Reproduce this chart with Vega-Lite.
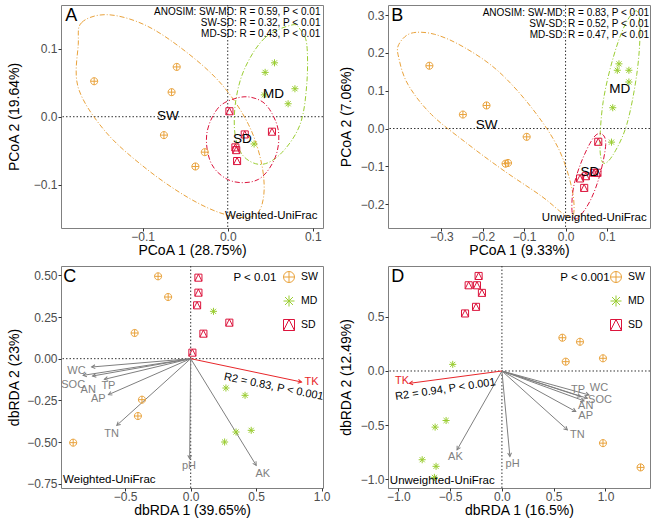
{
  "$schema": "https://vega.github.io/schema/vega-lite/v6.json",
  "padding": {"left": 6, "top": 4, "right": 0, "bottom": 0},
  "columns": 2,
  "spacing": {"row": 7, "column": 7},
  "datasets": {
    "ptsA": [
      {"g": "SW", "x": -0.157, "y": 0.052}, {"g": "SW", "x": -0.060, "y": 0.073}, {"g": "SW", "x": -0.066, "y": 0.036},
      {"g": "SW", "x": -0.075, "y": -0.027}, {"g": "SW", "x": -0.027, "y": -0.052}, {"g": "SW", "x": -0.038, "y": -0.073},
      {"g": "MD", "x": 0.055, "y": 0.079}, {"g": "MD", "x": 0.044, "y": 0.065}, {"g": "MD", "x": 0.079, "y": 0.041},
      {"g": "MD", "x": 0.071, "y": 0.019}, {"g": "MD", "x": 0.043, "y": 0.032}, {"g": "MD", "x": 0.031, "y": -0.040},
      {"g": "SD", "x": 0.002, "y": 0.008}, {"g": "SD", "x": 0.020, "y": -0.026}, {"g": "SD", "x": 0.009, "y": -0.045},
      {"g": "SD", "x": 0.010, "y": -0.049}, {"g": "SD", "x": 0.011, "y": -0.065}, {"g": "SD", "x": 0.052, "y": -0.022}
    ],
    "ellA": [
      {"g": "SW", "i": 1, "x": -0.1757, "y": 0.1061}, {"g": "SW", "i": 2, "x": -0.1718, "y": 0.1379}, {"g": "SW", "i": 3, "x": -0.1416, "y": 0.1496},
      {"g": "SW", "i": 4, "x": -0.0973, "y": 0.1345}, {"g": "SW", "i": 5, "x": -0.0502, "y": 0.0963}, {"g": "SW", "i": 6, "x": -0.0071, "y": 0.0474},
      {"g": "SW", "i": 7, "x": 0.0243, "y": -0.0112}, {"g": "SW", "i": 8, "x": 0.0400, "y": -0.0699}, {"g": "SW", "i": 9, "x": 0.0420, "y": -0.1188},
      {"g": "SW", "i": 10, "x": 0.0302, "y": -0.1457}, {"g": "SW", "i": 11, "x": -0.0031, "y": -0.1433}, {"g": "SW", "i": 12, "x": -0.0463, "y": -0.1188},
      {"g": "SW", "i": 13, "x": -0.0973, "y": -0.0748}, {"g": "SW", "i": 14, "x": -0.1443, "y": -0.0210}, {"g": "SW", "i": 15, "x": -0.1757, "y": 0.0425},
      {"g": "MD", "i": 1, "x": 0.0753, "y": 0.1345}, {"g": "MD", "i": 2, "x": 0.0439, "y": 0.1159}, {"g": "MD", "i": 3, "x": 0.0204, "y": 0.0719},
      {"g": "MD", "i": 4, "x": 0.0094, "y": 0.0230}, {"g": "MD", "i": 5, "x": 0.0086, "y": -0.0259}, {"g": "MD", "i": 6, "x": 0.0184, "y": -0.0577},
      {"g": "MD", "i": 7, "x": 0.0400, "y": -0.0699}, {"g": "MD", "i": 8, "x": 0.0635, "y": -0.0528}, {"g": "MD", "i": 9, "x": 0.0851, "y": -0.0112},
      {"g": "MD", "i": 10, "x": 0.0929, "y": 0.0474}, {"g": "MD", "i": 11, "x": 0.0929, "y": 0.1061}, {"g": "MD", "i": 12, "x": 0.0851, "y": 0.1281},
      {"g": "SD", "i": 1, "x": 0.0125, "y": 0.0279}, {"g": "SD", "i": 2, "x": -0.0110, "y": 0.0132}, {"g": "SD", "i": 3, "x": -0.0247, "y": -0.0259},
      {"g": "SD", "i": 4, "x": -0.0188, "y": -0.0699}, {"g": "SD", "i": 5, "x": 0.0047, "y": -0.0944}, {"g": "SD", "i": 6, "x": 0.0361, "y": -0.0919},
      {"g": "SD", "i": 7, "x": 0.0557, "y": -0.0601}, {"g": "SD", "i": 8, "x": 0.0596, "y": -0.0210}, {"g": "SD", "i": 9, "x": 0.0478, "y": 0.0132},
      {"g": "SD", "i": 10, "x": 0.0322, "y": 0.0269}
    ],
    "ptsB": [
      {"g": "SW", "x": -0.329, "y": 0.166}, {"g": "SW", "x": -0.248, "y": 0.037}, {"g": "SW", "x": -0.191, "y": 0.061},
      {"g": "SW", "x": -0.094, "y": -0.022}, {"g": "SW", "x": -0.145, "y": -0.093}, {"g": "SW", "x": -0.139, "y": -0.091},
      {"g": "MD", "x": 0.129, "y": 0.171}, {"g": "MD", "x": 0.125, "y": 0.154}, {"g": "MD", "x": 0.153, "y": 0.154},
      {"g": "MD", "x": 0.153, "y": 0.123}, {"g": "MD", "x": 0.114, "y": 0.055}, {"g": "MD", "x": 0.111, "y": -0.036},
      {"g": "SD", "x": 0.079, "y": -0.035}, {"g": "SD", "x": 0.069, "y": -0.117}, {"g": "SD", "x": 0.077, "y": -0.117},
      {"g": "SD", "x": 0.049, "y": -0.126}, {"g": "SD", "x": 0.035, "y": -0.132}, {"g": "SD", "x": 0.045, "y": -0.157}
    ],
    "ellB": [
      {"g": "SW", "i": 1, "x": -0.403, "y": 0.222}, {"g": "SW", "i": 2, "x": -0.373, "y": 0.252}, {"g": "SW", "i": 3, "x": -0.316, "y": 0.249},
      {"g": "SW", "i": 4, "x": -0.244, "y": 0.214}, {"g": "SW", "i": 5, "x": -0.163, "y": 0.152}, {"g": "SW", "i": 6, "x": -0.082, "y": 0.055},
      {"g": "SW", "i": 7, "x": -0.018, "y": -0.051}, {"g": "SW", "i": 8, "x": 0.015, "y": -0.157}, {"g": "SW", "i": 9, "x": 0.019, "y": -0.228},
      {"g": "SW", "i": 10, "x": -0.002, "y": -0.228}, {"g": "SW", "i": 11, "x": -0.058, "y": -0.179}, {"g": "SW", "i": 12, "x": -0.147, "y": -0.113},
      {"g": "SW", "i": 13, "x": -0.235, "y": -0.042}, {"g": "SW", "i": 14, "x": -0.324, "y": 0.037}, {"g": "SW", "i": 15, "x": -0.381, "y": 0.117},
      {"g": "SW", "i": 16, "x": -0.403, "y": 0.187},
      {"g": "MD", "i": 1, "x": 0.172, "y": 0.311}, {"g": "MD", "i": 2, "x": 0.180, "y": 0.258}, {"g": "MD", "i": 3, "x": 0.172, "y": 0.143},
      {"g": "MD", "i": 4, "x": 0.148, "y": 0.011}, {"g": "MD", "i": 5, "x": 0.115, "y": -0.069}, {"g": "MD", "i": 6, "x": 0.091, "y": -0.091},
      {"g": "MD", "i": 7, "x": 0.083, "y": -0.042}, {"g": "MD", "i": 8, "x": 0.091, "y": 0.072}, {"g": "MD", "i": 9, "x": 0.115, "y": 0.187},
      {"g": "MD", "i": 10, "x": 0.144, "y": 0.275},
      {"g": "SD", "i": 1, "x": 0.087, "y": -0.014}, {"g": "SD", "i": 2, "x": 0.097, "y": -0.042}, {"g": "SD", "i": 3, "x": 0.083, "y": -0.122},
      {"g": "SD", "i": 4, "x": 0.059, "y": -0.192}, {"g": "SD", "i": 5, "x": 0.029, "y": -0.237}, {"g": "SD", "i": 6, "x": 0.016, "y": -0.223},
      {"g": "SD", "i": 7, "x": 0.019, "y": -0.157}, {"g": "SD", "i": 8, "x": 0.039, "y": -0.086}, {"g": "SD", "i": 9, "x": 0.067, "y": -0.025}
    ],
    "ptsC": [
      {"g": "SW", "x": -0.249, "y": 0.494}, {"g": "SW", "x": -0.172, "y": 0.370}, {"g": "SW", "x": -0.428, "y": 0.154},
      {"g": "SW", "x": -0.372, "y": -0.246}, {"g": "SW", "x": -0.403, "y": -0.344}, {"g": "SW", "x": -0.897, "y": -0.504},
      {"g": "MD", "x": 0.174, "y": 0.284}, {"g": "MD", "x": 0.269, "y": -0.176}, {"g": "MD", "x": 0.415, "y": -0.220},
      {"g": "MD", "x": 0.346, "y": -0.440}, {"g": "MD", "x": 0.462, "y": -0.430}, {"g": "MD", "x": 0.259, "y": -0.500},
      {"g": "SD", "x": 0.059, "y": 0.486}, {"g": "SD", "x": 0.059, "y": 0.396}, {"g": "SD", "x": 0.049, "y": 0.320},
      {"g": "SD", "x": 0.295, "y": 0.216}, {"g": "SD", "x": 0.097, "y": 0.150}, {"g": "SD", "x": 0.013, "y": 0.036}
    ],
    "arrC": [
      {"v": "WC", "x": -0.756, "y": -0.050, "lx": -0.872, "ly": -0.074},
      {"v": "SOC", "x": -0.821, "y": -0.100, "lx": -0.897, "ly": -0.156},
      {"v": "AN", "x": -0.749, "y": -0.104, "lx": -0.782, "ly": -0.190},
      {"v": "TP", "x": -0.659, "y": -0.124, "lx": -0.628, "ly": -0.164},
      {"v": "AP", "x": -0.628, "y": -0.216, "lx": -0.705, "ly": -0.240},
      {"v": "TN", "x": -0.564, "y": -0.400, "lx": -0.603, "ly": -0.450},
      {"v": "pH", "x": -0.008, "y": -0.600, "lx": -0.013, "ly": -0.644},
      {"v": "AK", "x": 0.500, "y": -0.640, "lx": 0.551, "ly": -0.690},
      {"v": "TK", "x": 0.846, "y": -0.140, "lx": 0.923, "ly": -0.140}
    ],
    "ptsD": [
      {"g": "SW", "x": 0.584, "y": 0.307}, {"g": "SW", "x": 0.754, "y": 0.270}, {"g": "SW", "x": 0.616, "y": 0.086},
      {"g": "SW", "x": 0.976, "y": 0.117}, {"g": "SW", "x": 0.976, "y": -0.666}, {"g": "SW", "x": 1.339, "y": -0.890},
      {"g": "MD", "x": -0.475, "y": 0.061}, {"g": "MD", "x": -0.539, "y": -0.457}, {"g": "MD", "x": -0.645, "y": -0.518},
      {"g": "MD", "x": -0.770, "y": -0.819}, {"g": "MD", "x": -0.636, "y": -0.880}, {"g": "MD", "x": -0.652, "y": -0.982},
      {"g": "SD", "x": -0.225, "y": 0.877}, {"g": "SD", "x": -0.321, "y": 0.791}, {"g": "SD", "x": -0.241, "y": 0.791},
      {"g": "SD", "x": -0.193, "y": 0.721}, {"g": "SD", "x": -0.250, "y": 0.592}, {"g": "SD", "x": -0.356, "y": 0.531}
    ],
    "arrD": [
      {"v": "WC", "x": 0.841, "y": -0.221, "lx": 0.937, "ly": -0.160},
      {"v": "SOC", "x": 0.825, "y": -0.252, "lx": 0.947, "ly": -0.270},
      {"v": "TP", "x": 0.761, "y": -0.236, "lx": 0.735, "ly": -0.178},
      {"v": "AN", "x": 0.793, "y": -0.276, "lx": 0.809, "ly": -0.322},
      {"v": "AP", "x": 0.713, "y": -0.374, "lx": 0.809, "ly": -0.411},
      {"v": "TN", "x": 0.632, "y": -0.543, "lx": 0.729, "ly": -0.595},
      {"v": "pH", "x": 0.077, "y": -0.788, "lx": 0.103, "ly": -0.859},
      {"v": "AK", "x": -0.433, "y": -0.727, "lx": -0.449, "ly": -0.798},
      {"v": "TK", "x": -0.893, "y": -0.114, "lx": -0.965, "ly": -0.089}
    ]
  },
  "concat": [
    {
      "width": 262, "height": 223,
      "layer": [
        {"data": {"values": [{}]}, "mark": {"type": "rule", "strokeDash": [1.5, 2], "color": "#333333", "strokeWidth": 1}, "encoding": {"x": {"datum": 0}}},
        {"data": {"values": [{}]}, "mark": {"type": "rule", "strokeDash": [1.5, 2], "color": "#333333", "strokeWidth": 1}, "encoding": {"y": {"datum": 0}}},
        {"data": {"name": "ellA"}, "mark": {"type": "line", "interpolate": "cardinal-closed", "strokeDash": [5, 2, 1, 2], "strokeWidth": 1, "clip": true},
          "encoding": {
            "x": {"field": "x", "type": "quantitative", "title": "PCoA 1 (28.75%)"},
            "y": {"field": "y", "type": "quantitative", "title": "PCoA 2 (19.64%)"},
            "order": {"field": "i", "type": "quantitative"},
            "stroke": {"field": "g", "type": "nominal", "scale": {"domain": ["SW", "MD", "SD"], "range": ["#E9A23B", "#9ACD32", "#DC143C"]}, "legend": null}
          }},
        {"data": {"name": "ptsA"}, "mark": {"type": "point", "filled": false, "size": 50, "strokeWidth": 1, "opacity": 1},
          "encoding": {
            "x": {"field": "x", "type": "quantitative", "title": "PCoA 1 (28.75%)", "scale": {"domain": [-0.196, 0.112], "nice": false, "zero": false}, "axis": {"values": [-0.1, 0, 0.1], "format": ".1f"}},
            "y": {"field": "y", "type": "quantitative", "title": "PCoA 2 (19.64%)", "scale": {"domain": [-0.1632, 0.1638], "nice": false, "zero": false}, "axis": {"values": [-0.1, 0, 0.1], "format": ".1f", "titlePadding": 12}},
            "color": {"field": "g", "type": "nominal", "scale": {"domain": ["SW", "MD", "SD"], "range": ["#E9A23B", "#9ACD32", "#DC143C"]},
              "legend": {"orient": "bottom-left", "title": null, "offset": 6, "symbolSize": 121, "symbolStrokeWidth": 1, "labelFontSize": 10.5, "rowPadding": 8, "padding": 0}},
            "shape": {"field": "g", "type": "nominal", "scale": {"domain": ["SW", "MD", "SD"], "range": ["M-1,0A1,1,0,1,1,1,0A1,1,0,1,1,-1,0ZM-1,0L1,0M0,-1L0,1", "M-1,0L1,0M0,-1L0,1M-0.72,-0.72L0.72,0.72M-0.72,0.72L0.72,-0.72", "M-1,-1L1,-1L1,1L-1,1ZM-1,1L0,-1L1,1"]},
              "legend": {"orient": "bottom-left", "title": null, "offset": 6, "symbolSize": 121, "symbolStrokeWidth": 1, "labelFontSize": 10.5, "rowPadding": 8, "padding": 0}}
          }},
        {"data": {"name": "ptsA"}, "transform": [{"aggregate": [{"op": "mean", "field": "x", "as": "x"}, {"op": "mean", "field": "y", "as": "y"}], "groupby": ["g"]}],
          "mark": {"type": "text", "fontSize": 13.5, "color": "#000000"},
          "encoding": {"x": {"field": "x", "type": "quantitative", "title": "PCoA 1 (28.75%)"}, "y": {"field": "y", "type": "quantitative", "title": "PCoA 2 (19.64%)"}, "text": {"field": "g"}}},
        {"data": {"values": [{}]}, "mark": {"type": "text", "align": "right", "baseline": "top", "fontSize": 10, "lineHeight": 11, "color": "#000000"},
          "encoding": {"x": {"datum": 0.109}, "y": {"datum": 0.161}, "text": {"value": ["ANOSIM:  SW-MD: R = 0.59, P < 0.01", "SW-SD: R = 0.32, P < 0.01", "MD-SD: R = 0.43, P < 0.01"]}}},
        {"data": {"values": [{}]}, "mark": {"type": "text", "align": "left", "baseline": "middle", "fontSize": 18, "color": "#000000"},
          "encoding": {"x": {"datum": -0.191}, "y": {"datum": 0.148}, "text": {"value": "A"}}},
        {"data": {"values": [{}]}, "mark": {"type": "text", "align": "right", "baseline": "middle", "fontSize": 11.5, "color": "#000000"},
          "encoding": {"x": {"datum": 0.1055}, "y": {"datum": -0.1456}, "text": {"value": "Weighted-UniFrac"}}}
      ]
    },
    {
      "width": 262, "height": 223,
      "layer": [
        {"data": {"values": [{}]}, "mark": {"type": "rule", "strokeDash": [1.5, 2], "color": "#333333", "strokeWidth": 1}, "encoding": {"x": {"datum": 0}}},
        {"data": {"values": [{}]}, "mark": {"type": "rule", "strokeDash": [1.5, 2], "color": "#333333", "strokeWidth": 1}, "encoding": {"y": {"datum": 0}}},
        {"data": {"name": "ellB"}, "mark": {"type": "line", "interpolate": "cardinal-closed", "strokeDash": [5, 2, 1, 2], "strokeWidth": 1, "clip": true},
          "encoding": {
            "x": {"field": "x", "type": "quantitative", "title": "PCoA 1 (9.33%)"},
            "y": {"field": "y", "type": "quantitative", "title": "PCoA 2 (7.06%)"},
            "order": {"field": "i", "type": "quantitative"},
            "stroke": {"field": "g", "type": "nominal", "scale": {"domain": ["SW", "MD", "SD"], "range": ["#E9A23B", "#9ACD32", "#DC143C"]}, "legend": null}
          }},
        {"data": {"name": "ptsB"}, "mark": {"type": "point", "filled": false, "size": 50, "strokeWidth": 1, "opacity": 1},
          "encoding": {
            "x": {"field": "x", "type": "quantitative", "title": "PCoA 1 (9.33%)", "scale": {"domain": [-0.429, 0.204], "nice": false, "zero": false}, "axis": {"values": [-0.3, -0.2, -0.1, 0, 0.1], "format": ".1f"}},
            "y": {"field": "y", "type": "quantitative", "title": "PCoA 2 (7.06%)", "scale": {"domain": [-0.263, 0.3266], "nice": false, "zero": false}, "axis": {"values": [-0.2, -0.1, 0, 0.1, 0.2, 0.3], "format": ".1f", "titlePadding": 7}},
            "color": {"field": "g", "type": "nominal", "scale": {"domain": ["SW", "MD", "SD"], "range": ["#E9A23B", "#9ACD32", "#DC143C"]},
              "legend": {"orient": "bottom-left", "title": null, "offset": 6, "symbolSize": 121, "symbolStrokeWidth": 1, "labelFontSize": 10.5, "rowPadding": 8, "padding": 0}},
            "shape": {"field": "g", "type": "nominal", "scale": {"domain": ["SW", "MD", "SD"], "range": ["M-1,0A1,1,0,1,1,1,0A1,1,0,1,1,-1,0ZM-1,0L1,0M0,-1L0,1", "M-1,0L1,0M0,-1L0,1M-0.72,-0.72L0.72,0.72M-0.72,0.72L0.72,-0.72", "M-1,-1L1,-1L1,1L-1,1ZM-1,1L0,-1L1,1"]},
              "legend": {"orient": "bottom-left", "title": null, "offset": 6, "symbolSize": 121, "symbolStrokeWidth": 1, "labelFontSize": 10.5, "rowPadding": 8, "padding": 0}}
          }},
        {"data": {"name": "ptsB"}, "transform": [{"aggregate": [{"op": "mean", "field": "x", "as": "x"}, {"op": "mean", "field": "y", "as": "y"}], "groupby": ["g"]}],
          "mark": {"type": "text", "fontSize": 13.5, "color": "#000000"},
          "encoding": {"x": {"field": "x", "type": "quantitative", "title": "PCoA 1 (9.33%)"}, "y": {"field": "y", "type": "quantitative", "title": "PCoA 2 (7.06%)"}, "text": {"field": "g"}}},
        {"data": {"values": [{}]}, "mark": {"type": "text", "align": "right", "baseline": "top", "fontSize": 10, "lineHeight": 11, "color": "#000000"},
          "encoding": {"x": {"datum": 0.2017}, "y": {"datum": 0.318}, "text": {"value": ["ANOSIM:  SW-MD: R = 0.83, P < 0.01", "SW-SD: R = 0.52, P < 0.01", "MD-SD: R = 0.47, P < 0.01"]}}},
        {"data": {"values": [{}]}, "mark": {"type": "text", "align": "left", "baseline": "middle", "fontSize": 18, "color": "#000000"},
          "encoding": {"x": {"datum": -0.421}, "y": {"datum": 0.297}, "text": {"value": "B"}}},
        {"data": {"values": [{}]}, "mark": {"type": "text", "align": "right", "baseline": "middle", "fontSize": 11.5, "color": "#000000"},
          "encoding": {"x": {"datum": 0.196}, "y": {"datum": -0.237}, "text": {"value": "Unweighted-UniFrac"}}}
      ]
    },
    {
      "width": 262, "height": 222,
      "layer": [
        {"data": {"values": [{}]}, "mark": {"type": "rule", "strokeDash": [1.5, 2], "color": "#333333", "strokeWidth": 1}, "encoding": {"x": {"datum": 0}}},
        {"data": {"values": [{}]}, "mark": {"type": "rule", "strokeDash": [1.5, 2], "color": "#333333", "strokeWidth": 1}, "encoding": {"y": {"datum": 0}}},
        {"data": {"name": "arrC"}, "mark": {"type": "rule", "strokeWidth": 1},
          "encoding": {
            "x": {"field": "x", "type": "quantitative", "title": "dbRDA 1 (39.65%)"}, "x2": {"datum": 0},
            "y": {"field": "y", "type": "quantitative", "title": "dbRDA 2 (23%)"}, "y2": {"datum": 0},
            "color": {"condition": {"test": "datum.v == 'TK'", "value": "#E8262A"}, "value": "#7F7F7F"}
          }},
        {"data": {"name": "arrC"}, "transform": [{"calculate": "atan2(-datum.y * 166.7, datum.x * 130) * 180 / PI", "as": "ang"}],
          "mark": {"type": "point", "filled": false, "size": 49, "strokeWidth": 1, "shape": "M-1,-0.55L0,0L-1,0.55", "opacity": 1},
          "encoding": {
            "x": {"field": "x", "type": "quantitative", "title": "dbRDA 1 (39.65%)"},
            "y": {"field": "y", "type": "quantitative", "title": "dbRDA 2 (23%)"},
            "angle": {"field": "ang", "type": "quantitative", "scale": null},
            "color": {"condition": {"test": "datum.v == 'TK'", "value": "#E8262A"}, "value": "#7F7F7F"}
          }},
        {"data": {"name": "arrC"}, "mark": {"type": "text", "fontSize": 11},
          "encoding": {
            "x": {"field": "lx", "type": "quantitative", "title": "dbRDA 1 (39.65%)"},
            "y": {"field": "ly", "type": "quantitative", "title": "dbRDA 2 (23%)"},
            "text": {"field": "v"},
            "color": {"condition": {"test": "datum.v == 'TK'", "value": "#E8262A"}, "value": "#7F7F7F"}
          }},
        {"data": {"name": "ptsC"}, "mark": {"type": "point", "filled": false, "size": 50, "strokeWidth": 1, "opacity": 1},
          "encoding": {
            "x": {"field": "x", "type": "quantitative", "title": "dbRDA 1 (39.65%)", "scale": {"domain": [-0.99, 1.01], "nice": false, "zero": false}, "axis": {"values": [-0.5, 0, 0.5, 1], "format": ".1f"}},
            "y": {"field": "y", "type": "quantitative", "title": "dbRDA 2 (23%)", "scale": {"domain": [-0.776, 0.556], "nice": false, "zero": false}, "axis": {"values": [-0.75, -0.5, -0.25, 0, 0.25, 0.5], "format": ".2f", "titlePadding": 5}},
            "color": {"field": "g", "type": "nominal", "scale": {"domain": ["SW", "MD", "SD"], "range": ["#E9A23B", "#9ACD32", "#DC143C"]},
              "legend": {"orient": "top-right", "title": null, "offset": 5, "symbolSize": 121, "symbolStrokeWidth": 1, "labelFontSize": 10.5, "rowPadding": 8, "padding": 0}},
            "shape": {"field": "g", "type": "nominal", "scale": {"domain": ["SW", "MD", "SD"], "range": ["M-1,0A1,1,0,1,1,1,0A1,1,0,1,1,-1,0ZM-1,0L1,0M0,-1L0,1", "M-1,0L1,0M0,-1L0,1M-0.72,-0.72L0.72,0.72M-0.72,0.72L0.72,-0.72", "M-1,-1L1,-1L1,1L-1,1ZM-1,1L0,-1L1,1"]},
              "legend": {"orient": "top-right", "title": null, "offset": 5, "symbolSize": 121, "symbolStrokeWidth": 1, "labelFontSize": 10.5, "rowPadding": 8, "padding": 0}}
          }},
        {"data": {"values": [{}]}, "mark": {"type": "text", "align": "center", "baseline": "middle", "fontSize": 11, "angle": 11.5, "color": "#000000"},
          "encoding": {"x": {"datum": 0.633}, "y": {"datum": -0.17}, "text": {"value": "R2 = 0.83, P < 0.001"}}},
        {"data": {"values": [{}]}, "mark": {"type": "text", "align": "right", "baseline": "middle", "fontSize": 11.5, "color": "#000000"},
          "encoding": {"x": {"datum": 0.654}, "y": {"datum": 0.483}, "text": {"value": "P < 0.01"}}},
        {"data": {"values": [{}]}, "mark": {"type": "text", "align": "left", "baseline": "middle", "fontSize": 18, "color": "#000000"},
          "encoding": {"x": {"datum": -0.972}, "y": {"datum": 0.49}, "text": {"value": "C"}}},
        {"data": {"values": [{}]}, "mark": {"type": "text", "align": "left", "baseline": "middle", "fontSize": 11.5, "color": "#000000"},
          "encoding": {"x": {"datum": -0.974}, "y": {"datum": -0.73}, "text": {"value": "Weighted-UniFrac"}}}
      ]
    },
    {
      "width": 262, "height": 222,
      "layer": [
        {"data": {"values": [{}]}, "mark": {"type": "rule", "strokeDash": [1.5, 2], "color": "#333333", "strokeWidth": 1}, "encoding": {"x": {"datum": 0}}},
        {"data": {"values": [{}]}, "mark": {"type": "rule", "strokeDash": [1.5, 2], "color": "#333333", "strokeWidth": 1}, "encoding": {"y": {"datum": 0}}},
        {"data": {"name": "arrD"}, "mark": {"type": "rule", "strokeWidth": 1},
          "encoding": {
            "x": {"field": "x", "type": "quantitative", "title": "dbRDA 1 (16.5%)"}, "x2": {"datum": 0},
            "y": {"field": "y", "type": "quantitative", "title": "dbRDA 2 (12.49%)"}, "y2": {"datum": 0},
            "color": {"condition": {"test": "datum.v == 'TK'", "value": "#E8262A"}, "value": "#7F7F7F"}
          }},
        {"data": {"name": "arrD"}, "transform": [{"calculate": "atan2(-datum.y * 108.7, datum.x * 103.8) * 180 / PI", "as": "ang"}],
          "mark": {"type": "point", "filled": false, "size": 49, "strokeWidth": 1, "shape": "M-1,-0.55L0,0L-1,0.55", "opacity": 1},
          "encoding": {
            "x": {"field": "x", "type": "quantitative", "title": "dbRDA 1 (16.5%)"},
            "y": {"field": "y", "type": "quantitative", "title": "dbRDA 2 (12.49%)"},
            "angle": {"field": "ang", "type": "quantitative", "scale": null},
            "color": {"condition": {"test": "datum.v == 'TK'", "value": "#E8262A"}, "value": "#7F7F7F"}
          }},
        {"data": {"name": "arrD"}, "mark": {"type": "text", "fontSize": 11},
          "encoding": {
            "x": {"field": "lx", "type": "quantitative", "title": "dbRDA 1 (16.5%)"},
            "y": {"field": "ly", "type": "quantitative", "title": "dbRDA 2 (12.49%)"},
            "text": {"field": "v"},
            "color": {"condition": {"test": "datum.v == 'TK'", "value": "#E8262A"}, "value": "#7F7F7F"}
          }},
        {"data": {"name": "ptsD"}, "mark": {"type": "point", "filled": false, "size": 50, "strokeWidth": 1, "opacity": 1},
          "encoding": {
            "x": {"field": "x", "type": "quantitative", "title": "dbRDA 1 (16.5%)", "scale": {"domain": [-1.10, 1.43], "nice": false, "zero": false}, "axis": {"values": [-1, -0.5, 0, 0.5, 1], "format": ".1f"}},
            "y": {"field": "y", "type": "quantitative", "title": "dbRDA 2 (12.49%)", "scale": {"domain": [-1.08, 0.969], "nice": false, "zero": false}, "axis": {"values": [-1, -0.5, 0, 0.5], "format": ".1f", "titlePadding": 7}},
            "color": {"field": "g", "type": "nominal", "scale": {"domain": ["SW", "MD", "SD"], "range": ["#E9A23B", "#9ACD32", "#DC143C"]},
              "legend": {"orient": "top-right", "title": null, "offset": 5, "symbolSize": 121, "symbolStrokeWidth": 1, "labelFontSize": 10.5, "rowPadding": 8, "padding": 0}},
            "shape": {"field": "g", "type": "nominal", "scale": {"domain": ["SW", "MD", "SD"], "range": ["M-1,0A1,1,0,1,1,1,0A1,1,0,1,1,-1,0ZM-1,0L1,0M0,-1L0,1", "M-1,0L1,0M0,-1L0,1M-0.72,-0.72L0.72,0.72M-0.72,0.72L0.72,-0.72", "M-1,-1L1,-1L1,1L-1,1ZM-1,1L0,-1L1,1"]},
              "legend": {"orient": "top-right", "title": null, "offset": 5, "symbolSize": 121, "symbolStrokeWidth": 1, "labelFontSize": 10.5, "rowPadding": 8, "padding": 0}}
          }},
        {"data": {"values": [{}]}, "mark": {"type": "text", "align": "center", "baseline": "middle", "fontSize": 11, "angle": -8.4, "color": "#000000"},
          "encoding": {"x": {"datum": -0.546}, "y": {"datum": -0.172}, "text": {"value": "R2 = 0.94, P < 0.001"}}},
        {"data": {"values": [{}]}, "mark": {"type": "text", "align": "right", "baseline": "middle", "fontSize": 11.5, "color": "#000000"},
          "encoding": {"x": {"datum": 1.04}, "y": {"datum": 0.859}, "text": {"value": "P < 0.001"}}},
        {"data": {"values": [{}]}, "mark": {"type": "text", "align": "left", "baseline": "middle", "fontSize": 18, "color": "#000000"},
          "encoding": {"x": {"datum": -1.069}, "y": {"datum": 0.868}, "text": {"value": "D"}}},
        {"data": {"values": [{}]}, "mark": {"type": "text", "align": "left", "baseline": "middle", "fontSize": 11.5, "color": "#000000"},
          "encoding": {"x": {"datum": -1.082}, "y": {"datum": -1.012}, "text": {"value": "Unweighted-UniFrac"}}}
      ]
    }
  ],
  "resolve": {
    "scale": {"x": "independent", "y": "independent", "color": "independent", "shape": "independent", "stroke": "independent"},
    "legend": {"color": "independent", "shape": "independent"}
  },
  "config": {
    "font": "Liberation Sans",
    "view": {"stroke": "#808080", "strokeWidth": 1},
    "axis": {"grid": false, "domain": false, "tickColor": "#333333", "tickSize": 3, "labelPadding": 1, "labelColor": "#4D4D4D", "labelFontSize": 12, "labelFont": "Liberation Sans", "titleFont": "Liberation Sans", "titleFontSize": 14, "titleFontWeight": "normal", "titleColor": "#000000"},
    "axisX": {"titlePadding": 1, "labelPadding": 0},
    "legend": {"labelFont": "Liberation Sans", "labelColor": "#000000", "labelOffset": 6}
  }
}
